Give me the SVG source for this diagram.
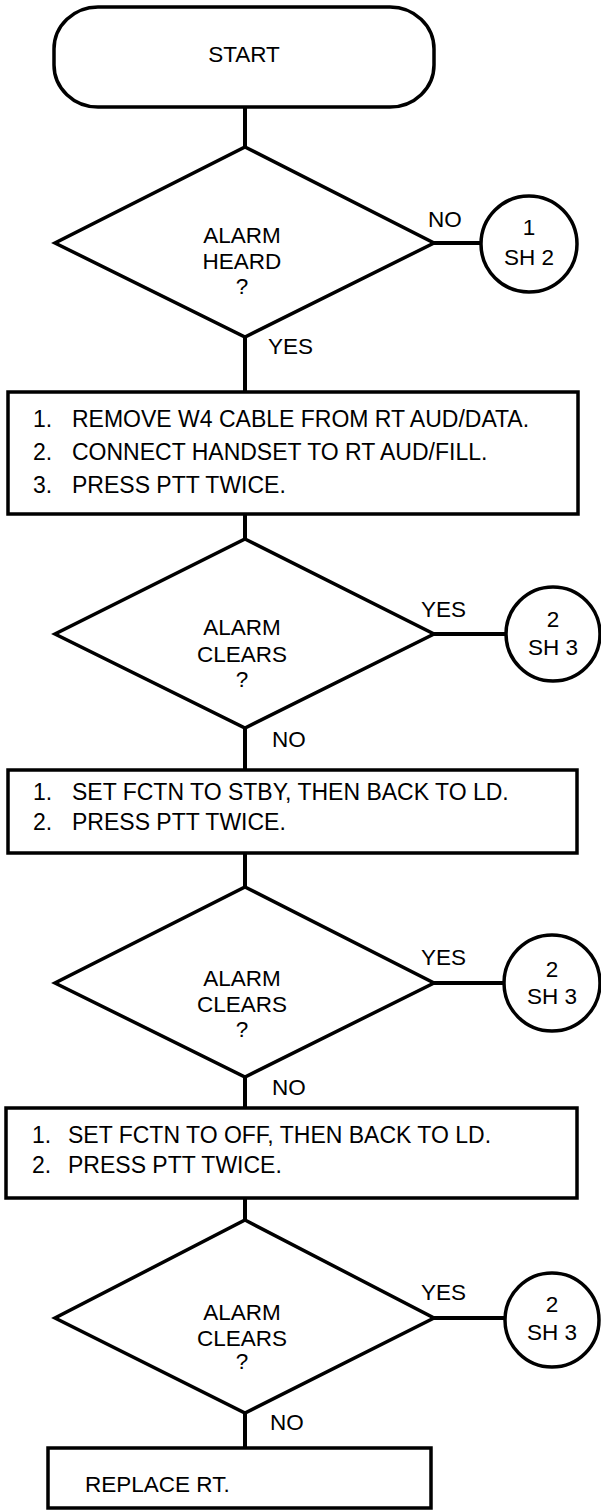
<svg xmlns="http://www.w3.org/2000/svg" width="601" height="1510" viewBox="0 0 601 1510">
<style>
.s{fill:#fff;stroke:#000;stroke-width:3.5;stroke-linejoin:miter}
.c{stroke:#000;stroke-width:4;fill:none}
text{font-family:"Liberation Sans",Arial,sans-serif;font-size:22.5px;fill:#000}
.b{font-size:23px}
.m{text-anchor:middle}
</style>
<rect width="601" height="1510" fill="#fff"/>
<g id="connectors">
<line class="c" x1="245" y1="107" x2="245" y2="147"/>
<line class="c" x1="434" y1="243" x2="481" y2="243"/>
<line class="c" x1="245" y1="337" x2="245" y2="392"/>
<line class="c" x1="245" y1="514" x2="245" y2="539"/>
<line class="c" x1="434" y1="634" x2="506" y2="634"/>
<line class="c" x1="245" y1="728" x2="245" y2="770"/>
<line class="c" x1="245" y1="853" x2="245" y2="887"/>
<line class="c" x1="434" y1="983" x2="504" y2="983"/>
<line class="c" x1="245" y1="1077" x2="245" y2="1108"/>
<line class="c" x1="245" y1="1198" x2="245" y2="1220"/>
<line class="c" x1="434" y1="1318" x2="505" y2="1318"/>
<line class="c" x1="245" y1="1413" x2="245" y2="1448"/>
<text x="428" y="227">NO</text>
<text x="268" y="354">YES</text>
<text x="421" y="617">YES</text>
<text x="272" y="747">NO</text>
<text x="421" y="965">YES</text>
<text x="272" y="1095">NO</text>
<text x="421" y="1300">YES</text>
<text x="270" y="1430">NO</text>
</g>
<g id="start">
<rect class="s" x="54" y="7" width="380" height="100" rx="44" ry="42"/>
<text class="m" x="244" y="62">START</text>
</g>
<g id="d1">
<polygon class="s" points="245,147 434,243 245,337 55,243"/>
<text class="m" x="242" y="243">ALARM</text>
<text class="m" x="242" y="269">HEARD</text>
<text class="m" x="242" y="294">?</text>
</g>
<g id="c1">
<circle class="s" cx="529" cy="244" r="48"/>
<text class="m" x="529" y="235">1</text>
<text class="m" x="529" y="265">SH 2</text>
</g>
<g id="b1" class="b">
<rect class="s" x="8" y="392" width="570" height="122"/>
<text class="b" x="33" y="427">1.</text><text class="b" x="72" y="427">REMOVE W4 CABLE FROM RT AUD/DATA.</text>
<text class="b" x="33" y="460">2.</text><text class="b" x="72" y="460">CONNECT HANDSET TO RT AUD/FILL.</text>
<text class="b" x="33" y="493">3.</text><text class="b" x="72" y="493">PRESS PTT TWICE.</text>
</g>
<g id="d2">
<polygon class="s" points="245,539 434,634 245,728 55,634"/>
<text class="m" x="242" y="635">ALARM</text>
<text class="m" x="242" y="662">CLEARS</text>
<text class="m" x="242" y="687">?</text>
</g>
<g id="c2">
<circle class="s" cx="553" cy="634" r="47"/>
<text class="m" x="553" y="627">2</text>
<text class="m" x="553" y="655">SH 3</text>
</g>
<g id="b2">
<rect class="s" x="8" y="770" width="569" height="83"/>
<text class="b" x="33" y="800">1.</text><text class="b" x="72" y="800">SET FCTN TO STBY, THEN BACK TO LD.</text>
<text class="b" x="33" y="830">2.</text><text class="b" x="72" y="830">PRESS PTT TWICE.</text>
</g>
<g id="d3">
<polygon class="s" points="245,887 434,983 245,1077 55,983"/>
<text class="m" x="242" y="986">ALARM</text>
<text class="m" x="242" y="1012">CLEARS</text>
<text class="m" x="242" y="1037">?</text>
</g>
<g id="c3">
<circle class="s" cx="552" cy="983" r="48"/>
<text class="m" x="552" y="977">2</text>
<text class="m" x="552" y="1004">SH 3</text>
</g>
<g id="b3">
<rect class="s" x="6" y="1108" width="571" height="90"/>
<text class="b" x="32" y="1143">1.</text><text class="b" x="68" y="1143">SET FCTN TO OFF, THEN BACK TO LD.</text>
<text class="b" x="32" y="1173">2.</text><text class="b" x="68" y="1173">PRESS PTT TWICE.</text>
</g>
<g id="d4">
<polygon class="s" points="245,1220 434,1318 245,1413 55,1318"/>
<text class="m" x="242" y="1320">ALARM</text>
<text class="m" x="242" y="1346">CLEARS</text>
<text class="m" x="242" y="1369">?</text>
</g>
<g id="c4">
<circle class="s" cx="552" cy="1320" r="47"/>
<text class="m" x="552" y="1312">2</text>
<text class="m" x="552" y="1340">SH 3</text>
</g>
<g id="b4">
<rect class="s" x="48" y="1448" width="383" height="60"/>
<text x="85" y="1492">REPLACE RT.</text>
</g>
</svg>
